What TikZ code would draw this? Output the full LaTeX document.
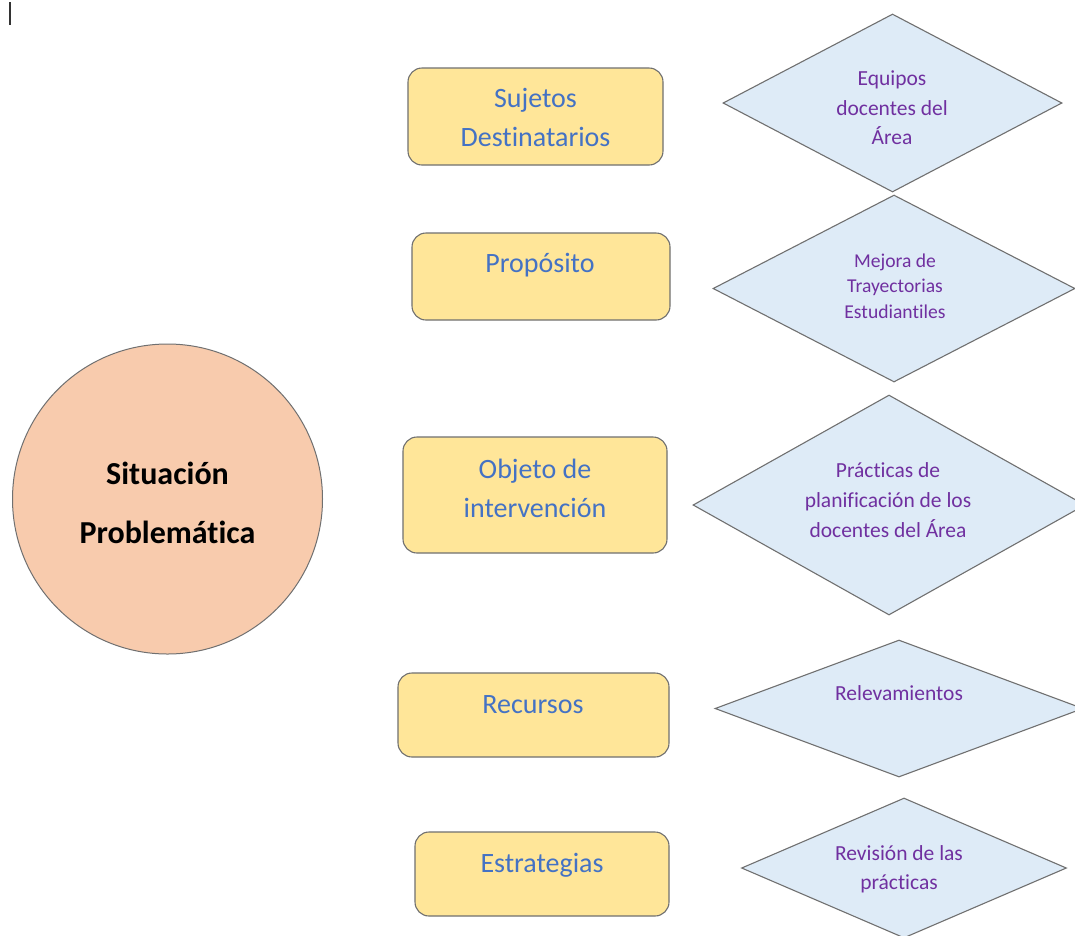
\documentclass[tikz,border=0pt]{standalone}
\usepackage{fontspec}
\setmainfont{Carlito}[Ligatures={NoCommon,NoContextual}]
\usetikzlibrary{shapes.geometric}
\definecolor{boxfill}{HTML}{FFE699}
\definecolor{boxtext}{HTML}{4472C4}
\definecolor{diafill}{HTML}{DEEBF7}
\definecolor{diatext}{HTML}{7030A0}
\definecolor{circfill}{HTML}{F8CBAD}
\definecolor{edgegray}{HTML}{707070}
\begin{document}
\begin{tikzpicture}[x=1pt,y=-1pt,
  boxshape/.style={draw=edgegray, line width=1.1pt, fill=boxfill, rounded corners=14pt, inner sep=0pt},
  diashape/.style={diamond, draw=edgegray, line width=1.1pt, fill=diafill, inner sep=0pt},
  circshape/.style={circle, draw=edgegray, line width=1pt, fill=circfill, inner sep=0pt},
  boxlabel/.style={anchor=base, inner sep=0pt, text=boxtext, font=\fontsize{28}{34}\selectfont},
  dialabel/.style={anchor=base, inner sep=0pt, text=diatext, font=\fontsize{21.5}{26}\selectfont},
  dialabelsmall/.style={anchor=base, inner sep=0pt, text=diatext, font=\fontsize{19.6}{24}\selectfont},
  circlabel/.style={anchor=base, inner sep=0pt, text=black, font=\bfseries\fontsize{32}{38}\selectfont}
]
\clip (0,0) rectangle (1075,935);
\fill[white] (0,0) rectangle (1075,935);

% cursor mark
\coordinate (cura) at (10,2);
\coordinate (curb) at (10,25);
\draw[line width=1.5pt, black!80] (cura) -- (curb);

% central circle
\node[circshape, minimum size=310pt] (sp) at (167.5,499) {};
\node[circlabel] (sp1) at (167.5,484) {Situación};
\node[circlabel] (sp2) at (167.5,543) {Problemática};

% boxes
\node[boxshape, minimum width=255pt, minimum height=97pt] (b1) at (535.5,116.5) {};
\node[boxlabel] (b1a) at (535.5,107) {Sujetos};
\node[boxlabel] (b1b) at (535.5,146) {Destinatarios};

\node[boxshape, minimum width=258pt, minimum height=87pt] (b2) at (541,276.5) {};
\node[boxlabel] (b2a) at (540,272) {Propósito};

\node[boxshape, minimum width=264pt, minimum height=116pt] (b3) at (535,495) {};
\node[boxlabel] (b3a) at (535,478) {Objeto de};
\node[boxlabel] (b3b) at (535,517) {intervención};

\node[boxshape, minimum width=271pt, minimum height=84pt] (b4) at (533.5,715) {};
\node[boxlabel] (b4a) at (533,713) {Recursos};

\node[boxshape, minimum width=254pt, minimum height=84pt] (b5) at (542,874) {};
\node[boxlabel] (b5a) at (542,872) {Estrategias};

% diamonds
\node[diashape, minimum width=339pt, minimum height=178pt] (d1) at (892.5,103) {};
\node[dialabel] (d1a) at (892,85) {Equipos};
\node[dialabel] (d1b) at (892,115) {docentes del};
\node[dialabel] (d1c) at (892,144) {Área};

\node[diashape, minimum width=362pt, minimum height=187pt] (d2) at (894,288.5) {};
\node[dialabelsmall] (d2a) at (895,267) {Mejora de};
\node[dialabelsmall] (d2b) at (895,292) {Trayectorias};
\node[dialabelsmall] (d2c) at (895,318) {Estudiantiles};

\node[diashape, minimum width=392pt, minimum height=220pt] (d3) at (889,505) {};
\node[dialabel] (d3a) at (888,477) {Prácticas de};
\node[dialabel] (d3b) at (888,507) {planificación de los};
\node[dialabel] (d3c) at (888,537) {docentes del Área};

\node[diashape, minimum width=368pt, minimum height=137pt] (d4) at (899,708.5) {};
\node[dialabel] (d4a) at (899,700) {Relevamientos};

\node[diashape, minimum width=325pt, minimum height=140pt] (d5) at (904,868) {};
\node[dialabel] (d5a) at (899,860) {Revisión de las};
\node[dialabel] (d5b) at (899,889) {prácticas};
\end{tikzpicture}
\end{document}
